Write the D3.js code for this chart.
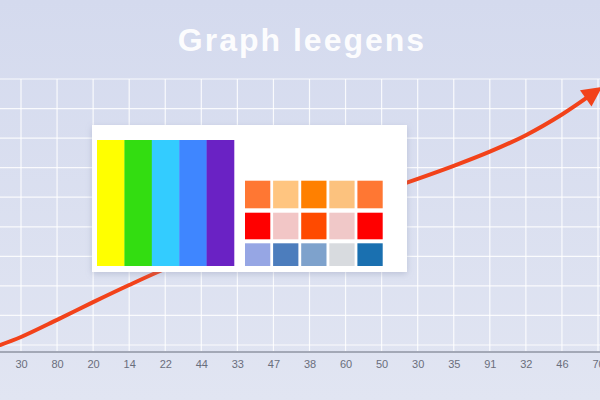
<!DOCTYPE html>
<html>
<head>
<meta charset="utf-8">
<script src="https://cdn.jsdelivr.net/npm/d3@7"></script>
<style>
  html, body { margin: 0; padding: 0; width: 600px; height: 400px; overflow: hidden; }
  svg { display: block; }
</style>
</head>
<body>
<svg id="chart" width="600" height="400"></svg>
<script>
// ---- data ----
const titleText = "Graph leegens";
const xLabels = ["30","80","20","14","22","44","33","47","38","60","50","30","35","91","32","46","70"];
const gridValues = [0, 10, 20, 30, 40, 50, 60, 70, 80, 90];
const curveIndex = [-0.58, 0, 1, 2, 3, 4, 5, 6, 7, 8, 9, 10, 11, 12, 13, 14, 15, 15.75];
const curveValue = [0, 2.7, 8.5, 14.5, 20.3, 25.8, 30.6, 35.0, 39.4, 43.7, 47.9, 52.0, 56.2, 60.6, 65.4, 71.0, 78.0, 84.2];
const legendBarColors = ["#ffff00", "#33dd11", "#33ccff", "#3f86ff", "#6a22c4"];
const swatchRow1 = ["#ff7733", "#ffc580", "#ff8000", "#fcc27e", "#ff7733"];
const swatchRow2 = ["#ff0000", "#f2c6c6", "#ff4a00", "#f0c8c8", "#ff0000"];
const swatchRow3 = ["#96a6e4", "#4c7dbd", "#7ea2cc", "#d8dbdf", "#1a70b0"];

// ---- drawing ----
const W = 600, H = 400;
const svg = d3.select("#chart");
const defs = svg.append("defs");

const bg = defs.append("linearGradient").attr("id", "bg").attr("x1", 0).attr("y1", 0).attr("x2", 0).attr("y2", 1);
bg.append("stop").attr("offset", "0%").attr("stop-color", "#d4daee");
bg.append("stop").attr("offset", "100%").attr("stop-color", "#e1e5f2");

const shadow = defs.append("filter").attr("id", "shadow").attr("x", "-10%").attr("y", "-10%").attr("width", "120%").attr("height", "130%");
shadow.append("feDropShadow").attr("dx", 0).attr("dy", 2).attr("stdDeviation", 3)
  .attr("flood-color", "#8088a8").attr("flood-opacity", 0.35);

defs.append("marker")
  .attr("id", "arrow")
  .attr("viewBox", "0 0 10 10")
  .attr("refX", 2).attr("refY", 5)
  .attr("markerUnits", "userSpaceOnUse")
  .attr("markerWidth", 22).attr("markerHeight", 20)
  .attr("orient", "auto")
  .append("path").attr("d", "M0,0 L10,5 L0,10 Z").attr("fill", "#f2421a");

svg.append("rect").attr("width", W).attr("height", H).attr("fill", "url(#bg)");

const x = d3.scaleLinear().domain([0, xLabels.length - 1]).range([21, 598]);
const y = d3.scaleLinear().domain([0, 90]).range([345, 79]);

// grid
const grid = svg.append("g").attr("stroke", "#ffffff").attr("stroke-opacity", 0.85).attr("stroke-width", 1.2);
grid.selectAll("line.h").data(gridValues).join("line")
  .attr("class", "h")
  .attr("x1", 0).attr("x2", W)
  .attr("y1", d => y(d)).attr("y2", d => y(d));
grid.selectAll("line.v").data(xLabels.map((d, i) => i)).join("line")
  .attr("class", "v")
  .attr("x1", d => x(d)).attr("x2", d => x(d))
  .attr("y1", y(90)).attr("y2", 352);

// x axis
const xAxis = d3.axisBottom(x)
  .tickValues(xLabels.map((d, i) => i))
  .tickFormat(i => xLabels[i])
  .tickSize(0)
  .tickPadding(8);
const axG = svg.append("g").attr("transform", "translate(0,352)").call(xAxis);
axG.select(".domain").remove();
axG.append("line").attr("x1", 0).attr("x2", W).attr("y1", 0).attr("y2", 0)
  .attr("stroke", "#a3a8b6").attr("stroke-width", 2);
axG.selectAll("text")
  .attr("fill", "#6a6e7c")
  .attr("font-family", "Liberation Sans, Arial, sans-serif")
  .attr("font-size", 11);

// curve
const line = d3.line()
  .x((d, i) => x(curveIndex[i]))
  .y(d => y(d))
  .curve(d3.curveCatmullRom.alpha(0.5));
svg.append("path")
  .datum(curveValue)
  .attr("d", line)
  .attr("fill", "none")
  .attr("stroke", "#f2421a")
  .attr("stroke-width", 4)
  .attr("stroke-linecap", "round")
  .attr("marker-end", "url(#arrow)");

// legend box
const lg = svg.append("g");
lg.append("rect")
  .attr("x", 92).attr("y", 125).attr("width", 315).attr("height", 147)
  .attr("fill", "#ffffff").attr("filter", "url(#shadow)");

const barX = d3.scaleBand().domain(d3.range(legendBarColors.length)).range([97, 234]).padding(0);
lg.selectAll("rect.bar").data(legendBarColors).join("rect")
  .attr("class", "bar")
  .attr("x", (d, i) => barX(i)).attr("y", 140)
  .attr("width", barX.bandwidth() + 0.3).attr("height", 126)
  .attr("fill", d => d);

const swatchRows = [swatchRow1, swatchRow2, swatchRow3];
const rowY = [180.7, 212.7, 243.3];
const rowH = [27.6, 26.6, 22.7];
const swX = d3.scaleBand().domain(d3.range(5)).range([245, 382.7]).paddingInner(0.1).paddingOuter(0);
swatchRows.forEach((row, r) => {
  lg.selectAll("rect.sw" + r).data(row).join("rect")
    .attr("class", "sw" + r)
    .attr("x", (d, i) => swX(i)).attr("y", rowY[r])
    .attr("width", swX.bandwidth()).attr("height", rowH[r])
    .attr("fill", d => d);
});

// title
svg.append("text")
  .attr("x", 302).attr("y", 51)
  .attr("text-anchor", "middle")
  .attr("font-family", "Liberation Sans, Arial, sans-serif")
  .attr("font-weight", "bold")
  .attr("font-size", 32)
  .attr("letter-spacing", 2)
  .attr("fill", "#ffffff")
  .attr("fill-opacity", 0.95)
  .text(titleText);
</script>
</body>
</html>
